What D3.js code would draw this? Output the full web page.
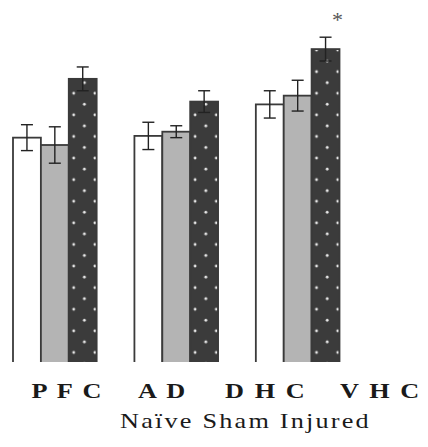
<!DOCTYPE html>
<html>
<head>
<meta charset="utf-8">
<script src="https://cdn.jsdelivr.net/npm/d3@7/dist/d3.min.js"></script>
<style>
  body { margin: 0; background: #fff; }
  svg { display: block; }
  text { font-family: 'Liberation Serif', 'Times New Roman', Times, serif; }
</style>
</head>
<body>
<div id="chart"></div>
<script>
// data (arbitrary units, baseline cropped)
var regions = ['PFC', 'AD', 'DHC']
var groups = ['Naive', 'Sham', 'Injured']
var means = [
    [64.1, 62.0, 80.9],
    [64.6, 65.8, 74.4],
    [73.6, 76.1, 89.4]
]
var errors = [
    [3.7, 5.2, 3.4],
    [3.9, 1.7, 3.1],
    [3.9, 4.4, 3.4]
]
var starred = [[2, 2]]
var regionLabels = ['PFC', 'AD', 'DHC', 'VHC']
var regionLabelX = [31.5, 138, 225, 340]
var legendLabel = 'Naïve Sham Injured'

var width = 428
var height = 447
var baseY = 362
var stretch = 1.25

var svg = d3.select('#chart').append('svg')
    .attr('width', width)
    .attr('height', height)

var defs = svg.append('defs')
var pat = defs.append('pattern')
    .attr('id', 'dots')
    .attr('patternUnits', 'userSpaceOnUse')
    .attr('width', 21.2)
    .attr('height', 21.6)
pat.append('rect')
    .attr('width', 21.2).attr('height', 21.6)
    .attr('fill', '#3b3b3b')
pat.append('circle').attr('cx', 18.3).attr('cy', 6.9).attr('r', 1.4).attr('fill', '#e8e8e8')
pat.append('circle').attr('cx', 7.8).attr('cy', 17.9).attr('r', 1.4).attr('fill', '#e8e8e8')

var x0 = d3.scaleBand()
    .domain(regions)
    .range([13, 339.5])
    .paddingInner(0.311)
    .paddingOuter(0)

var x1 = d3.scaleBand()
    .domain(groups)
    .range([0, x0.bandwidth()])

var y = d3.scaleLinear()
    .domain([0, 100])
    .range([baseY, 12])

var fills = { Naive: '#ffffff', Sham: '#b4b4b4', Injured: 'url(#dots)' }

var g = svg.append('g')

regions.forEach(function (r, i) {
    var cell = g.append('g')
        .attr('transform', 'translate(' + x0(r) + ',0)')

    groups.forEach(function (s, j) {
        var v = means[i][j]
        var e = errors[i][j]
        var bx = x1(s)
        cell.append('rect')
            .attr('x', bx)
            .attr('y', y(v))
            .attr('width', x1.bandwidth())
            .attr('height', baseY - y(v) + 5)
            .attr('fill', fills[s])
            .attr('stroke', '#3a3a3a')
            .attr('stroke-width', 1.8)

        var cx = bx + x1.bandwidth() / 2
        var eb = cell.append('g')
            .attr('stroke', '#222')
            .attr('stroke-width', 1.4)
        eb.append('line')
            .attr('x1', cx).attr('x2', cx)
            .attr('y1', y(v + e)).attr('y2', y(v - e))
        eb.append('line')
            .attr('x1', cx - 6).attr('x2', cx + 6)
            .attr('y1', y(v + e)).attr('y2', y(v + e))
        eb.append('line')
            .attr('x1', cx - 6).attr('x2', cx + 6)
            .attr('y1', y(v - e)).attr('y2', y(v - e))
    })
})

// significance mark
starred.forEach(function (d) {
    var r = regions[d[0]]
    var s = groups[d[1]]
    var v = means[d[0]][d[1]] + errors[d[0]][d[1]]
    svg.append('text')
        .attr('x', x0(r) + x1(s) + x1.bandwidth() / 2 + 12)
        .attr('y', y(v) - 10)
        .attr('text-anchor', 'middle')
        .attr('font-size', '22px')
        .attr('fill', '#555')
        .text('*')
})

// cover anything below cropped baseline
svg.append('rect')
    .attr('x', 0).attr('y', baseY)
    .attr('width', width).attr('height', height - baseY)
    .attr('fill', '#fff')

// labels are horizontally stretched in the original
svg.append('g')
    .selectAll('g')
    .data(regionLabels)
    .join('g')
    .attr('transform', (d, i) => 'translate(' + regionLabelX[i] + ',398) scale(' + stretch + ',1)')
    .append('text')
    .attr('font-weight', 'bold')
    .attr('font-size', '21px')
    .attr('word-spacing', '3.3px')
    .attr('fill', '#1a1a1a')
    .style('white-space', 'pre')
    .text(d => d.split('').join(' '))

svg.append('g')
    .attr('transform', 'translate(120,428) scale(' + stretch + ',1)')
    .append('text')
    .attr('font-size', '21px')
    .attr('fill', '#1a1a1a')
    .attr('textLength', 199)
    .attr('lengthAdjust', 'spacing')
    .text(legendLabel)
</script>
</body>
</html>
